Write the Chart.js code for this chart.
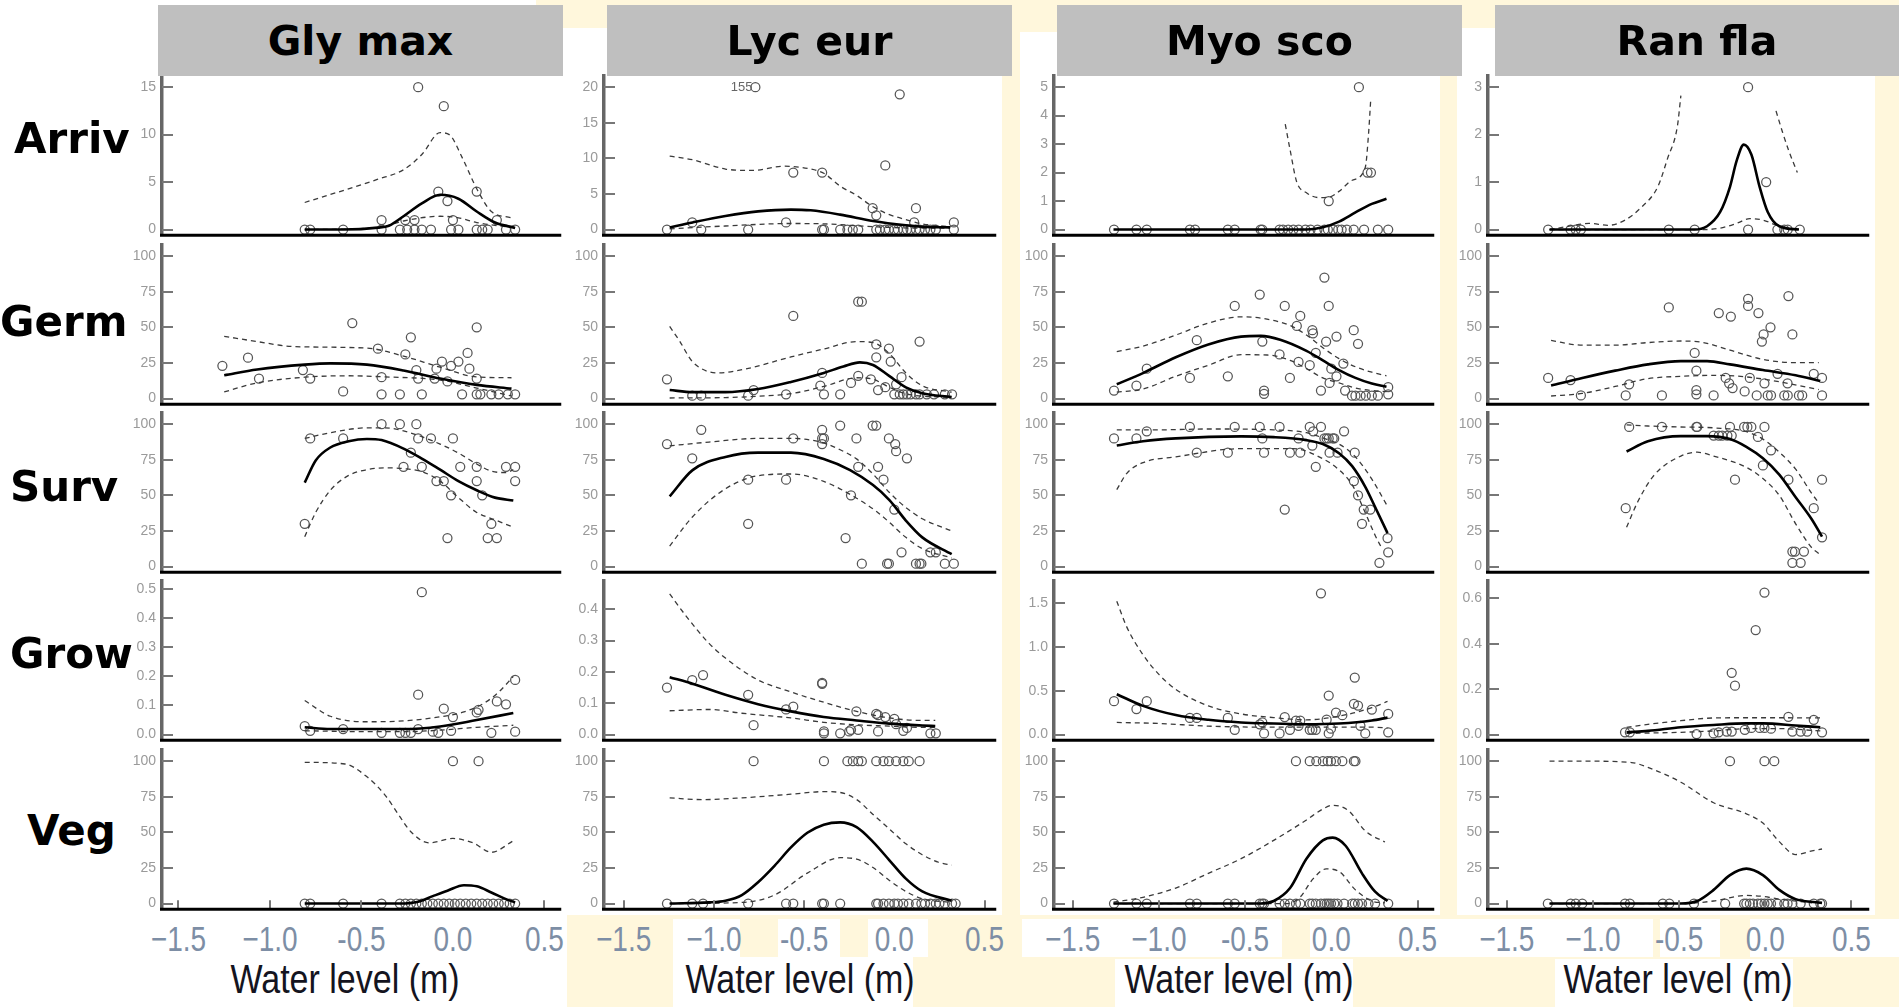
<!DOCTYPE html>
<html><head><meta charset="utf-8">
<script src="https://cdn.jsdelivr.net/npm/chart.js"></script>
<style>
html,body{margin:0;padding:0;}
body{width:1899px;height:1007px;position:relative;overflow:hidden;background:#fff7dc;font-family:'Liberation Sans',Arial,sans-serif;}
.wb{position:absolute;background:#fff;z-index:0;}
.hdr{position:absolute;top:5px;height:71px;background:#bfbfbf;display:flex;align-items:center;justify-content:center;font:bold 41px 'DejaVu Sans';color:#000;z-index:3;}
.rl{position:absolute;font:bold 42px 'DejaVu Sans';color:#000;z-index:4;line-height:50px;height:50px;white-space:nowrap;}
canvas.p{position:absolute;z-index:1;}
.xl{position:absolute;font:28px 'Liberation Sans';color:#7d8ea5;transform:translateX(-50%) scaleY(1.25);white-space:nowrap;z-index:2;line-height:1;}
.xt{position:absolute;font:34px 'Liberation Sans';color:#141420;transform:translateX(-50%) scaleY(1.2);white-space:nowrap;z-index:2;line-height:1;}
</style></head>
<body>
<script>
// ---------- categories / labels ----------
const species = ['Gly max','Lyc eur','Myo sco','Ran fla'];
const rowNames = ['Arriv','Germ','Surv','Grow','Veg'];
const xTickValues = [-1.5,-1.0,-0.5,0.0,0.5];
const xTickLabels = ['\u22121.5','\u22121.0','-0.5','0.0','0.5'];
const xTitle = 'Water level (m)';
const yTicksArriv = [[0,5,10,15],[0,5,10,15,20],[0,1,2,3,4,5],[0,1,2,3]];
const yTicksPct = [0,25,50,75,100];
const yTicksGrow = [[0,0.1,0.2,0.3,0.4,0.5],[0,0.1,0.2,0.3,0.4],[0,0.5,1.0,1.5],[0,0.2,0.4,0.6]];
const yRefArriv = [15,20,5,3];          // axis value 150 px above zero
const yRefGrow = [0.49,0.4545,1.623,0.627];
const yRefPct = 100;
const lycArrivNote = {x:-0.77, y:20, text:'155'};

// ---------- Gly max ----------
const glyArrivPts = [[-0.81,0],[-0.78,0],[-0.6,0],[-0.39,0],[-0.29,0],[-0.25,0],[-0.21,0],[-0.17,0],[-0.12,0],[-0.01,0],[0.03,0],[0.13,0],[0.16,0],[0.19,0],[0.29,0],[0.34,0],[-0.39,1],[-0.26,1],[-0.21,1],[0,1],[0.24,1],[-0.19,15],[-0.05,13],[-0.08,4],[-0.03,3],[0.13,4]];
const glyArrivFit = [[-0.81,0],[-0.6,0],[-0.41,0.2],[-0.35,0.4],[-0.27,1.4],[-0.17,2.75],[-0.07,3.66],[0.03,3.25],[0.13,1.9],[0.23,0.74],[0.34,0.17]];
const glyArrivHi = [[-0.81,2.85],[-0.41,5.3],[-0.27,6.3],[-0.17,7.9],[-0.07,10.2],[-0.02,10.0],[0.05,7.6],[0.13,4.3],[0.21,1.9],[0.32,1.24]];
const glyArrivLo = [[-0.81,0],[-0.41,0.2],[-0.27,0.9],[-0.07,1.4],[0.03,1.24],[0.13,0.74],[0.33,0.2]];

const glyGermPts = [[-1.26,23],[-1.12,28.7],[-1.06,14],[-0.82,20],[-0.78,14],[-0.6,5],[-0.55,53],[-0.41,35],[-0.39,15],[-0.39,3],[-0.29,3],[-0.26,31],[-0.23,43],[-0.2,20],[-0.19,14],[-0.17,3],[-0.1,14],[-0.09,21],[-0.06,26],[-0.03,12],[-0.01,23],[0.03,26],[0.08,32],[0.09,21],[0.05,3],[0.13,50],[0.13,3],[0.15,3],[0.21,3],[0.25,3],[0.3,3],[0.34,3],[0.13,14]];
const glyGermFit = [[-1.25,16.4],[-1.07,20.4],[-0.81,23.8],[-0.67,24.7],[-0.47,23.8],[-0.27,19.7],[-0.07,14.1],[0.13,9.6],[0.32,7]];
const glyGermHi = [[-1.25,43.7],[-1.07,40],[-0.87,36.5],[-0.47,35.4],[-0.27,29.8],[-0.07,22],[0.13,15.2],[0.32,14.6]];
const glyGermLo = [[-1.25,4.7],[-1.07,11],[-0.81,15],[-0.57,16],[-0.37,15.2],[-0.07,13],[0.13,7.4],[0.32,1.8]];

const glySurvPts = [[-0.78,90],[-0.81,30],[-0.6,90],[-0.39,100],[-0.29,100],[-0.2,100],[-0.27,70],[-0.23,80],[-0.19,90],[-0.12,90],[-0.17,70],[-0.09,60],[-0.05,60],[-0.01,50],[0,90],[-0.03,20],[0.04,70],[0.13,70],[0.13,60],[0.16,50],[0.21,30],[0.19,20],[0.24,20],[0.29,70],[0.34,70],[0.34,60]];
const glySurvFit = [[-0.81,58.9],[-0.75,74.5],[-0.67,83.6],[-0.57,88],[-0.47,89.6],[-0.39,88.8],[-0.27,82.8],[-0.17,75.8],[-0.07,68],[0.03,60],[0.13,53.6],[0.23,48.4],[0.33,46.4]];
const glySurvHi = [[-0.81,90],[-0.67,94],[-0.47,97.4],[-0.37,97.4],[-0.27,95.3],[-0.07,86],[0.03,79.7],[0.13,72],[0.21,67],[0.29,66],[0.33,68]];
const glySurvLo = [[-0.81,21],[-0.75,38],[-0.67,53.6],[-0.57,64],[-0.47,68],[-0.37,69.3],[-0.27,68.8],[-0.17,66.7],[-0.07,60],[0.03,48.4],[0.13,38],[0.23,32.8],[0.33,27.6]];

const glyGrowPts = [[-0.17,0.49],[-0.19,0.137],[-0.05,0.089],[0,0.06],[0.13,0.076],[0.14,0.085],[0.24,0.114],[0.29,0.104],[0.34,0.188],[-0.81,0.029],[-0.78,0.013],[-0.6,0.019],[-0.39,0.006],[-0.29,0.006],[-0.26,0.006],[-0.23,0.006],[-0.19,0.019],[-0.11,0.01],[-0.08,0.006],[-0.01,0.013],[0.21,0.006],[0.34,0.01]];
const glyGrowFit = [[-0.81,0.025],[-0.67,0.019],[-0.47,0.019],[-0.27,0.019],[-0.07,0.028],[0.13,0.05],[0.33,0.074]];
const glyGrowHi = [[-0.81,0.117],[-0.67,0.063],[-0.47,0.044],[-0.27,0.047],[-0.07,0.061],[0.05,0.076],[0.17,0.108],[0.25,0.146],[0.33,0.2]];
const glyGrowLo = [[-0.81,0.013],[-0.47,0.01],[-0.27,0.01],[-0.07,0.015],[0.13,0.025],[0.33,0.032]];

const glyVegPts = [[0,100],[0.14,100],[-0.81,0],[-0.78,0],[-0.6,0],[-0.39,0],[-0.29,0],[-0.26,0],[-0.23,0],[-0.2,0],[-0.17,0],[-0.14,0],[-0.11,0],[-0.08,0],[-0.05,0],[-0.02,0],[0.01,0],[0.04,0],[0.07,0],[0.1,0],[0.13,0],[0.16,0],[0.19,0],[0.22,0],[0.25,0],[0.28,0],[0.31,0],[0.34,0]];
const glyVegFit = [[-0.81,0],[-0.29,0],[-0.19,1.3],[-0.11,5.2],[-0.03,9],[0.06,12.9],[0.13,12.1],[0.21,7.8],[0.29,3.1],[0.34,0.8]];
const glyVegHi = [[-0.81,99.2],[-0.59,98],[-0.47,89],[-0.37,76],[-0.29,61],[-0.23,50.4],[-0.13,42.6],[0,45.7],[0.11,42.6],[0.21,36],[0.33,44]];
const glyVegLo = [];

// ---------- Lyc eur ----------
const lycArrivPts = [[-0.77,20],[0.03,19],[-0.05,9],[-0.56,8],[-0.4,8],[-0.12,3],[-0.1,2],[0.12,3],[0.11,1],[0.33,1],[-0.6,1],[-1.12,1],[-1.26,0],[-1.07,0],[-0.81,0],[-0.4,0],[-0.39,0],[-0.3,0],[-0.26,0],[-0.23,0],[-0.2,0],[-0.1,0],[-0.08,0],[-0.05,0],[-0.03,0],[0,0],[0.02,0],[0.05,0],[0.07,0],[0.09,0],[0.12,0],[0.14,0],[0.17,0],[0.2,0],[0.23,0],[0.33,0]];
const lycArrivFit = [[-1.245,0.3],[-1.118,1.0],[-0.936,1.9],[-0.755,2.55],[-0.573,2.8],[-0.464,2.7],[-0.3,2.1],[-0.118,1.2],[0.064,0.6],[0.155,0.4],[0.309,0.3]];
const lycArrivHi = [[-1.245,10.3],[-1.118,9.8],[-0.936,8.5],[-0.791,8.3],[-0.609,8.9],[-0.464,8.5],[-0.391,7.9],[-0.3,6.1],[-0.209,4.8],[-0.118,3.2],[-0.027,2.1],[0.064,1.4],[0.155,0.8],[0.309,0.4]];
const lycArrivLo = [[-1.245,0.1],[-0.936,0.5],[-0.573,0.85],[-0.391,0.8],[-0.118,0.4],[0.155,0.2],[0.309,0.2]];

const lycGermPts = [[-1.26,13.5],[-1.12,2],[-1.07,2],[-0.81,2],[-0.78,6],[-0.6,3],[-0.56,58],[-0.4,18],[-0.41,9],[-0.39,3],[-0.3,3],[-0.24,11],[-0.2,16],[-0.2,68],[-0.18,68],[-0.1,38],[-0.1,29],[-0.13,13.5],[-0.09,6],[-0.05,8],[-0.03,35],[-0.02,26],[0.01,10],[0.04,15],[0.14,40],[0,3],[0.03,3],[0.05,3],[0.07,3],[0.09,3],[0.12,3],[0.14,3],[0.18,3],[0.22,3],[0.28,3],[0.32,3]];
const lycGermFit = [[-1.245,6],[-1.118,4.5],[-0.936,4.5],[-0.755,6.7],[-0.573,11.7],[-0.391,18],[-0.282,22.5],[-0.191,25.4],[-0.118,23.6],[-0.027,15.7],[0.064,7.9],[0.155,3.8],[0.318,1.1]];
const lycGermHi = [[-1.245,50.6],[-1.19,40.4],[-1.118,25.8],[-0.973,18],[-0.827,20.7],[-0.573,29.2],[-0.391,34.8],[-0.209,40],[-0.118,39.3],[-0.027,31.5],[0.064,18],[0.155,9],[0.318,4.5]];
const lycGermLo = [[-1.245,0.4],[-0.936,0.7],[-0.755,1.6],[-0.573,3.4],[-0.391,8.5],[-0.209,14.6],[-0.118,13.5],[-0.027,7.9],[0.064,3.4],[0.318,0.7]];

const lycSurvPts = [[-1.26,86],[-1.12,76],[-1.07,96],[-0.81,61],[-0.81,30],[-0.6,61],[-0.56,90],[-0.4,96],[-0.4,90],[-0.39,90],[-0.4,86],[-0.3,99],[-0.27,20],[-0.24,50],[-0.21,90],[-0.2,70],[-0.18,2],[-0.12,99],[-0.1,99],[-0.09,70],[-0.06,61],[-0.03,90],[0,40],[0.005,86],[0.01,81],[0.07,76],[0.04,10],[-0.04,2],[-0.03,2],[0.12,2],[0.14,2],[0.15,2],[0.2,10],[0.23,10],[0.28,2],[0.33,2]];
const lycSurvFit = [[-1.245,49.3],[-1.118,67.7],[-0.936,77],[-0.755,80],[-0.573,80],[-0.391,75.6],[-0.245,67.7],[-0.118,57.2],[-0.027,46.7],[0.064,32.3],[0.155,20.5],[0.318,8.7]];
const lycSurvHi = [[-1.245,84.8],[-1.027,87.4],[-0.755,90],[-0.573,90],[-0.409,87.4],[-0.3,82],[-0.209,75.6],[-0.118,65],[-0.027,52],[0.064,41.5],[0.155,33.6],[0.318,25]];
const lycSurvLo = [[-1.245,14.4],[-1.118,35],[-0.936,54.6],[-0.755,63.8],[-0.573,65],[-0.391,59.8],[-0.209,48],[-0.1,38.8],[-0.027,31],[0.064,20.5],[0.155,12.6],[0.318,6]];

const lycGrowPts = [[-1.26,0.15],[-1.12,0.174],[-1.06,0.19],[-0.81,0.127],[-0.78,0.03],[-0.6,0.08],[-0.56,0.089],[-0.4,0.162],[-0.4,0.165],[-0.39,0.01],[-0.39,0.004],[-0.3,0.004],[-0.25,0.01],[-0.24,0.015],[-0.2,0.015],[-0.21,0.074],[-0.1,0.066],[-0.09,0.062],[-0.05,0.056],[-0.09,0.01],[0,0.05],[0.01,0.033],[0.05,0.012],[0.07,0.021],[0.2,0.004],[0.23,0.004]];
const lycGrowFit = [[-1.245,0.183],[-1.118,0.162],[-0.936,0.127],[-0.755,0.097],[-0.573,0.074],[-0.391,0.056],[-0.209,0.045],[-0.027,0.035],[0.155,0.029],[0.227,0.027]];
const lycGrowHi = [[-1.245,0.449],[-1.155,0.379],[-1.027,0.291],[-0.936,0.244],[-0.755,0.174],[-0.573,0.136],[-0.391,0.103],[-0.209,0.074],[-0.027,0.053],[0.155,0.045],[0.227,0.045]];
const lycGrowLo = [[-1.245,0.076],[-1.027,0.08],[-0.845,0.068],[-0.573,0.053],[-0.391,0.039],[-0.209,0.031],[-0.027,0.027],[0.155,0.023],[0.227,0.023]];

const lycVegPts = [[-0.78,100],[-0.39,100],[-0.26,100],[-0.23,100],[-0.2,100],[-0.18,100],[-0.1,100],[-0.06,100],[-0.03,100],[0.01,100],[0.05,100],[0.08,100],[0.14,100],[-1.26,0],[-1.12,0],[-1.06,0],[-0.81,0],[-0.6,0],[-0.56,0],[-0.4,0],[-0.39,0],[-0.3,0],[-0.1,0],[-0.09,0],[-0.06,0],[-0.03,0],[0,0],[0.02,0],[0.05,0],[0.08,0],[0.12,0],[0.15,0],[0.17,0],[0.2,0],[0.23,0],[0.25,0],[0.28,0],[0.32,0],[0.34,0]];
const lycVegFit = [[-1.245,0],[-1.027,0.8],[-0.936,2],[-0.845,6],[-0.755,15],[-0.664,26.5],[-0.573,39.4],[-0.482,49.7],[-0.391,55.4],[-0.3,57],[-0.209,53.6],[-0.118,43.3],[-0.027,30.4],[0.064,17.5],[0.155,8.5],[0.318,2]];
const lycVegHi = [[-1.245,74.2],[-1.064,73],[-0.845,74.2],[-0.573,76.8],[-0.391,78.6],[-0.3,78],[-0.209,73],[-0.118,62.6],[-0.027,52.3],[0.064,42],[0.155,34.3],[0.245,29],[0.318,27]];
const lycVegLo = [[-1.245,0],[-0.845,0.8],[-0.664,6],[-0.482,21.4],[-0.3,32.2],[-0.209,31.2],[-0.118,25.3],[-0.027,16.2],[0.064,8.5],[0.155,3.4],[0.318,0.8]];

// ---------- Myo sco ----------
const myoArrivPts = [[0.16,5],[0.21,2],[0.23,2],[-0.015,1],[-1.26,0],[-1.13,0],[-1.07,0],[-0.82,0],[-0.79,0],[-0.6,0],[-0.56,0],[-0.41,0],[-0.4,0],[-0.3,0],[-0.28,0],[-0.25,0],[-0.22,0],[-0.19,0],[-0.15,0],[-0.12,0],[-0.08,0],[-0.04,0],[-0.02,0],[0.01,0],[0.04,0],[0.06,0],[0.09,0],[0.13,0],[0.19,0],[0.27,0],[0.33,0]];
const myoArrivFit = [[-1.263,0],[-0.6,0],[-0.144,0],[-0.049,0.08],[0.045,0.28],[0.14,0.6],[0.235,0.9],[0.32,1.08]];
const myoArrivHi = [[-0.267,3.7],[-0.239,2.8],[-0.201,1.68],[-0.144,1.29],[-0.068,1.12],[-0.011,1.14],[0.045,1.34],[0.121,1.73],[0.197,2.18],[0.216,3.36],[0.229,4.6]];
const myoArrivLo = [];

const myoGermPts = [[-1.26,5.6],[-1.13,9],[-1.07,21],[-0.82,14.5],[-0.78,41],[-0.6,15.6],[-0.56,65],[-0.415,73],[-0.4,40],[-0.39,5.6],[-0.39,3.3],[-0.3,31],[-0.27,65],[-0.24,14.5],[-0.2,51],[-0.19,25.7],[-0.18,58],[-0.125,23.4],[-0.11,48],[-0.106,45.8],[-0.09,32],[-0.06,5.6],[-0.04,85],[-0.03,40],[-0.015,65],[-0.01,11],[0,21],[0.03,15.6],[0.03,43.5],[0.07,24.6],[0.13,48],[0.155,38.4],[0.08,5.6],[0.12,2],[0.14,2],[0.17,2],[0.2,2],[0.235,2],[0.27,2],[0.33,3],[0.33,8]];
const myoGermFit = [[-1.244,10],[-1.092,17.9],[-0.902,29],[-0.713,38],[-0.523,43.5],[-0.409,44],[-0.296,41.3],[-0.144,33.5],[-0.049,26.8],[0.045,20],[0.14,14.5],[0.235,10.5],[0.32,8.3]];
const myoGermHi = [[-1.244,33],[-1.092,36.8],[-0.902,44.6],[-0.713,53],[-0.523,57.4],[-0.409,56.5],[-0.239,51.3],[-0.144,44.6],[-0.049,35.7],[0.045,28],[0.14,22.3],[0.235,18.5],[0.32,16]];
const myoGermLo = [[-1.244,4.5],[-1.092,6.7],[-0.902,15.6],[-0.713,23.4],[-0.523,30.8],[-0.372,30.6],[-0.239,26.8],[-0.144,21],[-0.049,14.5],[0.045,11],[0.14,7.4],[0.235,5.6],[0.32,4.9]];

const myoSurvPts = [[-1.26,90],[-1.13,90],[-1.07,95],[-0.82,98],[-0.78,80],[-0.6,80],[-0.56,98],[-0.415,98],[-0.4,90],[-0.39,80],[-0.3,98],[-0.27,40],[-0.24,80],[-0.18,80],[-0.19,90],[-0.125,98],[-0.06,98],[-0.11,85],[-0.09,70],[-0.105,95],[-0.04,90],[-0.027,90],[-0.015,90],[0.008,90],[0.017,90],[-0.01,80],[0.036,80],[0.074,95],[0.136,80],[0.131,60],[0.155,50],[0.188,40],[0.226,40],[0.178,30],[0.326,20],[0.33,10],[0.279,2.6]];
const myoSurvFit = [[-1.244,85],[-1.092,88],[-0.902,90],[-0.523,91.4],[-0.334,90.9],[-0.144,88.8],[-0.049,86],[0.045,79.6],[0.121,70.5],[0.197,56],[0.254,41.8],[0.326,23.5]];
const myoSurvHi = [[-1.244,96],[-0.997,96],[-0.713,96.6],[-0.334,96],[-0.144,94],[-0.03,89.5],[0.045,86],[0.14,77],[0.235,61.4],[0.326,42.3]];
const myoSurvLo = [[-1.244,54],[-1.187,65.3],[-1.092,73],[-0.902,77],[-0.523,82.8],[-0.22,82.8],[-0.049,75.7],[0.045,67.9],[0.121,57.4],[0.178,43],[0.254,22],[0.292,13]];

const myoGrowPts = [[-0.06,1.61],[0.136,0.65],[-0.015,0.445],[-1.26,0.38],[-1.13,0.29],[-1.07,0.38],[-0.82,0.19],[-0.78,0.19],[-0.6,0.19],[-0.56,0.054],[-0.415,0.117],[-0.4,0.138],[-0.39,0.013],[-0.3,0.013],[-0.27,0.2],[-0.24,0.054],[-0.205,0.16],[-0.19,0.1],[-0.18,0.16],[-0.125,0.054],[-0.11,0.054],[-0.09,0.054],[-0.027,0.17],[-0.002,0.067],[-0.015,0.013],[0.027,0.25],[0.064,0.22],[0.131,0.35],[0.155,0.33],[0.169,0.1],[0.197,0.013],[0.235,0.285],[0.33,0.235],[0.33,0.025]];
const myoGrowFit = [[-1.244,0.46],[-1.092,0.327],[-0.902,0.222],[-0.713,0.168],[-0.523,0.138],[-0.334,0.126],[-0.144,0.117],[0.045,0.126],[0.235,0.16],[0.326,0.193]];
const myoGrowHi = [[-1.244,1.52],[-1.187,1.23],[-1.092,0.91],[-0.997,0.68],[-0.902,0.515],[-0.713,0.327],[-0.523,0.235],[-0.334,0.193],[-0.144,0.168],[0.045,0.21],[0.235,0.306],[0.326,0.377]];
const myoGrowLo = [[-1.244,0.138],[-0.997,0.126],[-0.713,0.096],[-0.334,0.084],[0.045,0.084],[0.235,0.084],[0.326,0.075]];

const myoVegPts = [[-0.205,100],[-0.125,100],[-0.087,100],[-0.049,100],[-0.021,100],[-0.002,100],[0.027,100],[0.064,100],[0.131,100],[0.14,100],[-1.26,0],[-1.13,0],[-1.07,0],[-0.82,0],[-0.78,0],[-0.6,0],[-0.56,0],[-0.415,0],[-0.4,0],[-0.39,0],[-0.3,0],[-0.27,0],[-0.24,0],[-0.205,0],[-0.18,0],[-0.125,0],[-0.11,0],[-0.09,0],[-0.06,0],[-0.04,0],[-0.027,0],[-0.015,0],[-0.002,0],[0.017,0],[0.036,0],[0.074,0],[0.121,0],[0.136,0],[0.155,0],[0.178,0],[0.216,0],[0.254,0],[0.33,0]];
const myoVegFit = [[-1.263,0],[-0.6,0],[-0.409,0],[-0.334,1.8],[-0.239,10.9],[-0.144,31.5],[-0.049,44.4],[0.008,46.3],[0.083,40.6],[0.178,21.2],[0.254,8.3],[0.326,1.8]];
const myoVegHi = [[-1.263,1],[-1.092,4.4],[-0.902,10.9],[-0.713,21.2],[-0.523,31.5],[-0.334,44.4],[-0.144,58.7],[-0.049,66.4],[0.008,69],[0.102,65],[0.197,51],[0.311,43.2]];
const myoVegLo = [[-1.263,0],[-0.258,0],[-0.182,4.4],[-0.106,17.3],[-0.03,24.3],[0.045,22.5],[0.14,9.6],[0.235,1.8],[0.311,0.5]];

// ---------- Ran fla ----------
const ranArrivPts = [[-0.1,3],[0.005,1],[-1.26,0],[-1.13,0],[-1.1,0],[-1.07,0],[-0.56,0],[-0.41,0],[-0.1,0],[0.07,0],[0.11,0],[0.13,0],[0.2,0]];
const ranArrivFit = [[-1.252,0],[-0.805,0],[-0.414,0],[-0.338,0.07],[-0.262,0.37],[-0.205,0.9],[-0.167,1.44],[-0.125,1.79],[-0.081,1.58],[-0.033,0.9],[0.014,0.37],[0.081,0.07],[0.195,0]];
const ranArrivHi = [[-1.252,0],[-1.138,0.07],[-1.024,0.13],[-0.91,0.09],[-0.814,0.2],[-0.719,0.47],[-0.624,0.9],[-0.567,1.5],[-0.51,2.18],[-0.49,2.82],null,[0.062,2.5],[0.1,2.05],[0.138,1.64],[0.186,1.2]];
const ranArrivLo = [[-1.252,0],[-0.357,0],[-0.262,0.03],[-0.167,0.13],[-0.09,0.23],[-0.014,0.2],[0.081,0.07],[0.195,0]];

const ranGermPts = [[-1.26,14.5],[-1.13,13],[-1.07,2.2],[-0.81,2.2],[-0.79,10],[-0.6,2.2],[-0.56,64],[-0.41,32],[-0.4,19.6],[-0.4,6],[-0.4,3],[-0.3,2.2],[-0.27,60],[-0.23,14.5],[-0.21,10.7],[-0.2,57.6],[-0.19,7.4],[-0.12,5],[-0.1,70],[-0.1,65],[-0.09,14.5],[-0.04,60],[-0.02,40],[-0.01,45],[-0.005,10.7],[0.03,50],[-0.05,2.2],[0.014,2.2],[0.033,2.2],[0.11,2.2],[0.13,2.2],[0.195,2.2],[0.214,2.2],[0.329,2.2],[0.071,17.4],[0.129,10.7],[0.134,72],[0.157,45],[0.281,17.4],[0.329,14.5]];
const ranGermFit = [[-1.243,9.2],[-1.062,14.5],[-0.871,19.6],[-0.681,24],[-0.49,26.3],[-0.338,26.3],[-0.205,24],[-0.014,20],[0.176,16.3],[0.319,12.3]];
const ranGermHi = [[-1.243,40.8],[-1.062,37.5],[-0.871,37.5],[-0.681,39.3],[-0.49,40.4],[-0.376,39.7],[-0.205,34],[-0.014,27.5],[0.176,25.2],[0.31,25.2]];
const ranGermLo = [[-1.243,1.8],[-1.062,3.6],[-0.871,8.5],[-0.681,14],[-0.49,15.6],[-0.3,16.3],[-0.11,15.2],[0.081,11.8],[0.31,6.3]];

const ranSurvPts = [[-0.81,41],[-0.79,98],[-0.6,98],[-0.4,98],[-0.395,98],[-0.3,92],[-0.27,92],[-0.25,92],[-0.22,92],[-0.195,92],[-0.176,61],[-0.205,98],[-0.123,98],[-0.104,98],[-0.081,98],[-0.005,98],[-0.043,91],[-0.014,71],[0.033,81.6],[0.134,61],[0.157,2.6],[0.205,2.6],[0.157,10.5],[0.172,10.5],[0.224,10.5],[0.281,41],[0.329,61],[0.329,20.5]];
const ranSurvFit = [[-0.805,80.8],[-0.681,88],[-0.49,91.6],[-0.338,91.6],[-0.205,89.5],[-0.11,84],[-0.014,76],[0.081,64.5],[0.176,48.7],[0.271,32.9],[0.329,21]];
const ranSurvHi = [[-0.805,99.5],[-0.681,98.7],[-0.49,98],[-0.3,97.4],[-0.11,94.7],[-0.014,89.5],[0.081,80.3],[0.176,68.4],[0.271,51],[0.31,44.7]];
const ranSurvLo = [[-0.805,27.6],[-0.738,46],[-0.643,64.5],[-0.49,77.6],[-0.395,80.3],[-0.3,77.6],[-0.11,69.7],[-0.014,61.8],[0.081,50],[0.176,30],[0.271,13],[0.31,9.2]];

const ranGrowPts = [[-0.005,0.625],[-0.056,0.46],[-0.195,0.272],[-0.176,0.215],[-0.814,0.01],[-0.786,0.01],[-0.399,0.002],[-0.3,0.005],[-0.271,0.01],[-0.224,0.013],[-0.195,0.013],[-0.119,0.021],[-0.081,0.029],[-0.033,0.029],[-0.005,0.029],[0.033,0.026],[0.134,0.078],[0.157,0.013],[0.205,0.013],[0.243,0.013],[0.281,0.065],[0.329,0.01]];
const ranGrowFit = [[-0.805,0.01],[-0.681,0.016],[-0.49,0.032],[-0.3,0.042],[-0.11,0.049],[-0.014,0.049],[0.176,0.04],[0.319,0.032]];
const ranGrowHi = [[-0.805,0.032],[-0.681,0.045],[-0.49,0.061],[-0.3,0.073],[-0.11,0.074],[0.081,0.074],[0.319,0.073]];
const ranGrowLo = [[-0.805,0.005],[-0.49,0.01],[-0.3,0.016],[-0.11,0.026],[0.081,0.026],[0.319,0.016]];

const ranVegPts = [[-0.205,100],[-0.005,100],[0.052,100],[-1.262,0],[-1.129,0],[-1.1,0],[-1.062,0],[-0.814,0],[-0.786,0],[-0.595,0],[-0.557,0],[-0.414,0],[-0.233,0],[-0.123,0],[-0.11,0],[-0.09,0],[-0.071,0],[-0.043,0],[-0.024,0],[-0.005,0],[0.014,0],[0.033,0],[0.071,0],[0.11,0],[0.129,0],[0.157,0],[0.205,0],[0.281,0],[0.319,0],[0.329,0]];
const ranVegFit = [[-1.252,0],[-0.49,0],[-0.395,1.8],[-0.3,9.6],[-0.205,20],[-0.11,24.5],[-0.014,20],[0.081,9.6],[0.176,3.1],[0.329,0.5]];
const ranVegHi = [[-1.252,100],[-1.062,100],[-0.776,99],[-0.681,95.6],[-0.49,85.2],[-0.3,70.8],[-0.11,63],[-0.014,56.5],[0.081,43.5],[0.176,34.4],[0.271,37],[0.329,38.3]];
const ranVegLo = [[-1.252,0],[-0.49,0],[-0.3,1.8],[-0.11,5.7],[-0.014,5],[0.081,3.1],[0.271,0.5]];

// ---------- tables built from the arrays above ----------
const PTS = [[glyArrivPts,lycArrivPts,myoArrivPts,ranArrivPts],[glyGermPts,lycGermPts,myoGermPts,ranGermPts],[glySurvPts,lycSurvPts,myoSurvPts,ranSurvPts],[glyGrowPts,lycGrowPts,myoGrowPts,ranGrowPts],[glyVegPts,lycVegPts,myoVegPts,ranVegPts]];
const FIT = [[glyArrivFit,lycArrivFit,myoArrivFit,ranArrivFit],[glyGermFit,lycGermFit,myoGermFit,ranGermFit],[glySurvFit,lycSurvFit,myoSurvFit,ranSurvFit],[glyGrowFit,lycGrowFit,myoGrowFit,ranGrowFit],[glyVegFit,lycVegFit,myoVegFit,ranVegFit]];
const HI = [[glyArrivHi,lycArrivHi,myoArrivHi,ranArrivHi],[glyGermHi,lycGermHi,myoGermHi,ranGermHi],[glySurvHi,lycSurvHi,myoSurvHi,ranSurvHi],[glyGrowHi,lycGrowHi,myoGrowHi,ranGrowHi],[glyVegHi,lycVegHi,myoVegHi,ranVegHi]];
const LO = [[glyArrivLo,lycArrivLo,myoArrivLo,ranArrivLo],[glyGermLo,lycGermLo,myoGermLo,ranGermLo],[glySurvLo,lycSurvLo,myoSurvLo,ranSurvLo],[glyGrowLo,lycGrowLo,myoGrowLo,ranGrowLo],[glyVegLo,lycVegLo,myoVegLo,ranVegLo]];

// ---------- layout (positions only) ----------
const COL_AXIS_X = [162, 604, 1054, 1488];
const COL_RIGHT_X = [567, 1002, 1440, 1875];
const X_MIN = [-1.59, -1.609, -1.608, -1.609];
const X_MAX = [0.592, 0.565, 0.597, 0.603];
const ROW_BOTTOM = [238, 407, 575, 743, 912];
const PANEL_H = 168, AXW = 46;
const HDR_X = [[158,563],[607,1012],[1057,1462],[1495,1899]];
const ROW_LABEL_POS = [[14,138],[0,321],[10,486],[10,653],[27,830]];
const TITLE_X = [345, 800, 1239, 1678];
const WHITE = [[0,0,536,28],[0,28,1002,887],[1020,32,420,883],[1457,28,418,887],[0,915,567,92],
  [673,919,67,38],[778,919,62,38],[868,919,60,38],[673,957,240,50],
  [1022,919,201,38],[1220,919,62,38],[1310,919,160,38],[1115,959,238,48],
  [1463,919,190,38],[1660,919,60,38],[1750,919,149,38],[1555,959,238,48]];
const AXIS_GRAY = '#666666';

WHITE.forEach(b => { const d = document.createElement('div'); d.className='wb';
  d.style.left=b[0]+'px'; d.style.top=b[1]+'px'; d.style.width=b[2]+'px'; d.style.height=b[3]+'px'; document.body.appendChild(d); });

species.forEach((s,i) => { const d = document.createElement('div'); d.className='hdr'; d.textContent=s;
  d.style.left=HDR_X[i][0]+'px'; d.style.width=(HDR_X[i][1]-HDR_X[i][0])+'px'; document.body.appendChild(d); });

rowNames.forEach((s,i) => { const d = document.createElement('div'); d.className='rl'; d.textContent=s;
  d.style.left=ROW_LABEL_POS[i][0]+'px'; d.style.top=(ROW_LABEL_POS[i][1]-24)+'px'; document.body.appendChild(d); });

const panelDeco = {
  id: 'panelDeco',
  afterDraw(chart, args, opts) {
    const ctx = chart.ctx, a = chart.chartArea, ys = chart.scales.y, xs = chart.scales.x;
    ctx.save();
    ctx.strokeStyle = '#777'; ctx.lineWidth = 2;
    ys.ticks.forEach(t => { const py = Math.round(ys.getPixelForValue(t.value));
      ctx.beginPath(); ctx.moveTo(a.left, py); ctx.lineTo(a.left + 11, py); ctx.stroke(); });
    if (opts.xTicks) {
      xTickValues.forEach(v => { const px = Math.round(xs.getPixelForValue(v));
        ctx.beginPath(); ctx.moveTo(px, a.bottom); ctx.lineTo(px, a.bottom - 9); ctx.stroke(); });
    }
    ctx.strokeStyle = '#000'; ctx.lineWidth = 3;
    ctx.beginPath(); ctx.moveTo(a.left - 2, a.bottom); ctx.lineTo(a.right, a.bottom); ctx.stroke();
    if (opts.note) {
      const n = opts.note;
      ctx.fillStyle = '#666'; ctx.font = '13px "Liberation Sans"'; ctx.textAlign = 'right'; ctx.textBaseline = 'middle';
      ctx.fillText(n.text, xs.getPixelForValue(n.x) - 3, ys.getPixelForValue(n.y));
    }
    ctx.restore();
  }
};

function segments(arr) {
  const segs = [[]];
  arr.forEach(p => { if (p === null) segs.push([]); else segs[segs.length-1].push({x:p[0], y:p[1]}); });
  return segs.filter(s => s.length > 1);
}
function lineDs(data, color, w, dash) {
  return {type:'line', data, borderColor:color, borderWidth:w, borderDash:dash, pointRadius:0, pointHoverRadius:0,
    fill:false, cubicInterpolationMode:'monotone', borderCapStyle:'butt'};
}

for (let r = 0; r < 5; r++) {
  for (let c = 0; c < 4; c++) {
    const B = ROW_BOTTOM[r];
    const left = COL_AXIS_X[c] - AXW;
    const width = COL_RIGHT_X[c] - COL_AXIS_X[c] + AXW;
    const cv = document.createElement('canvas');
    cv.className = 'p'; cv.width = width; cv.height = PANEL_H + 3;
    cv.style.left = left + 'px'; cv.style.top = (B - PANEL_H) + 'px';
    document.body.appendChild(cv);

    let ticks, ref, dec;
    if (r === 0) { ticks = yTicksArriv[c]; ref = yRefArriv[c]; dec = 0; }
    else if (r === 3) { ticks = yTicksGrow[c]; ref = yRefGrow[c]; dec = 1; }
    else { ticks = yTicksPct; ref = yRefPct; dec = 0; }
    const ymin = -6/150*ref, ymax = (PANEL_H-6)/150*ref;

    const ds = [];
    segments(FIT[r][c]).forEach(s => ds.push(lineDs(s, '#000', 2.6, [])));
    segments(HI[r][c]).forEach(s => ds.push(lineDs(s, '#3a3a3a', 1.3, [5,4])));
    segments(LO[r][c]).forEach(s => ds.push(lineDs(s, '#3a3a3a', 1.3, [5,4])));
    ds.push({type:'scatter', data: PTS[r][c].map(p => ({x:p[0], y:p[1]})), pointRadius:4.5, pointHoverRadius:4.5,
      pointBorderWidth:1.25, pointBorderColor:'#555', pointBackgroundColor:'rgba(0,0,0,0)', clip:false});

    const chart = new Chart(cv, {
      type: 'scatter',
      data: {datasets: ds},
      options: {
        responsive:false, animation:false, devicePixelRatio:1, events:[],
        layout:{padding:{left:0,right:0,top:0,bottom:3}},
        plugins:{legend:{display:false}, tooltip:{enabled:false},
          panelDeco:{xTicks: r === 4, note: (r === 0 && c === 1) ? lycArrivNote : null}},
        scales:{
          x:{type:'linear', display:false, min:X_MIN[c], max:X_MAX[c]},
          y:{type:'linear', position:'left', min:ymin, max:ymax,
            afterBuildTicks: ax => { ax.ticks = ticks.map(v => ({value:v})); },
            afterFit: ax => { ax.width = AXW; ax.paddingTop = 0; ax.paddingBottom = 0; },
            ticks:{autoSkip:false, padding:6, color:'#9a9a9a', font:{family:'Liberation Sans', size:14},
              callback: v => dec ? Number(v).toFixed(dec) : String(v)},
            grid:{display:false, drawTicks:false},
            border:{display:true, color:AXIS_GRAY, width:3.5}}
        }
      },
      plugins:[panelDeco]
    });

    if (r === 4) {
      const sx = chart.scales.x;
      xTickValues.forEach((v,i) => {
        const d = document.createElement('div'); d.className='xl'; d.textContent = xTickLabels[i];
        d.style.left = (left + sx.getPixelForValue(v)) + 'px'; d.style.top = '926px';
        document.body.appendChild(d);
      });
      const t = document.createElement('div'); t.className='xt'; t.textContent = xTitle;
      t.style.left = TITLE_X[c] + 'px'; t.style.top = '962px'; document.body.appendChild(t);
    }
  }
}
</script>
</body></html>
